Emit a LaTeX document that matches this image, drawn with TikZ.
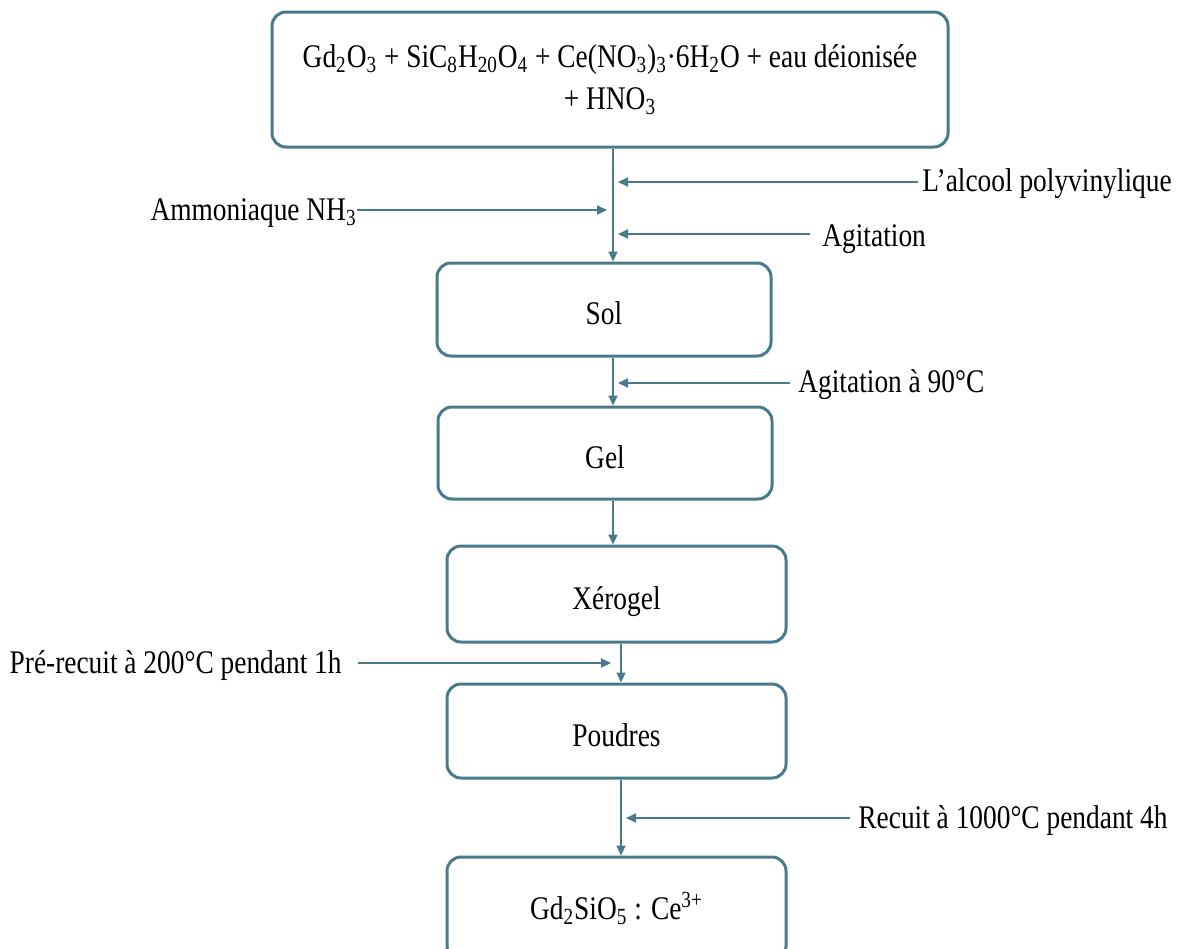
\documentclass[tikz,border=0pt]{standalone}
\usepackage{fontspec}
\setmainfont[FakeStretch=0.83]{Liberation Serif}
\usetikzlibrary{arrows.meta}
\definecolor{flow}{RGB}{72,122,140}
\tikzset{
  box/.style={draw=flow, line width=1.5pt, rounded corners=7pt, align=center, inner sep=0pt},
  onel/.style={text height=15pt, text depth=0pt},
  arr/.style={draw=flow, line width=1pt, -{Triangle[length=5pt,width=4.5pt]}},
  lab/.style={inner sep=0pt},
}
\begin{document}
\begin{tikzpicture}[x=0.5pt,y=-0.5pt, every node/.style={font=\fontsize{16.5}{21}\selectfont}]
\useasboundingbox (0,0) rectangle (1188,948);
\coordinate (L1) at (613,0);
\coordinate (L2) at (621,0);
% boxes
\node[box, minimum width=338pt, minimum height=67.5pt] (top) at (610,79.5)
  {Gd\textsubscript{2}O\textsubscript{3} + SiC\textsubscript{8}H\textsubscript{20}O\textsubscript{4} + Ce(NO\textsubscript{3})\textsubscript{3}·6H\textsubscript{2}O + eau déionisée\\+ HNO\textsubscript{3}};
\node[box, onel, minimum width=167pt, minimum height=46.5pt] (sol) at (604,309.5) {Sol};
\node[box, onel, minimum width=167pt, minimum height=46pt] (gel) at (605,453) {Gel};
\node[box, onel, minimum width=169.5pt, minimum height=48pt] (xero) at (616.5,594) {Xérogel};
\node[box, onel, minimum width=169.5pt, minimum height=47pt] (poud) at (616.5,731) {Poudres};
\node[box, minimum width=169.5pt, minimum height=51.5pt] (fin) at (616.5,908.5) {Gd\textsubscript{2}SiO\textsubscript{5} : Ce\textsuperscript{3+}};
% main flow
\draw[arr] (top.south -| L1) -- (sol.north -| L1);
\draw[arr] (sol.south -| L1) -- (gel.north -| L1);
\draw[arr] (gel.south -| L1) -- (xero.north -| L1);
\draw[arr] (xero.south -| L2) -- (poud.north -| L2);
\draw[arr] (poud.south -| L2) -- (fin.north -| L2);
% side labels
\node[lab, anchor=west] (pva) at (922,184) {L’alcool polyvinylique};
\node[lab, anchor=east] (nh3) at (357,213) {Ammoniaque NH\textsubscript{3}};
\node[lab, anchor=west] (agi) at (822,239) {Agitation};
\node[lab, anchor=west] (agi90) at (798,385) {Agitation à 90°C};
\node[lab, anchor=east] (pre) at (342,666) {Pré-recuit à 200°C pendant 1h};
\node[lab, anchor=west] (rec) at (858,821) {Recuit à 1000°C pendant 4h};
\coordinate (tpva) at (618,182);
\coordinate (tnh3) at (607,210);
\coordinate (tagi) at (618,234);
\coordinate (tagi90) at (618,383);
\coordinate (tpre) at (611,663);
\coordinate (trec) at (626,818);
\draw[arr] (918,182) coordinate (spva) -- (tpva);
\draw[arr] (nh3.east |- tnh3) -- (tnh3);
\draw[arr] (810,234) coordinate (sagi) -- (tagi);
\draw[arr] (790,383) coordinate (sagi90) -- (tagi90);
\draw[arr] (358,663) coordinate (spre) -- (tpre);
\draw[arr] (850,818) coordinate (srec) -- (trec);
\end{tikzpicture}
\end{document}
